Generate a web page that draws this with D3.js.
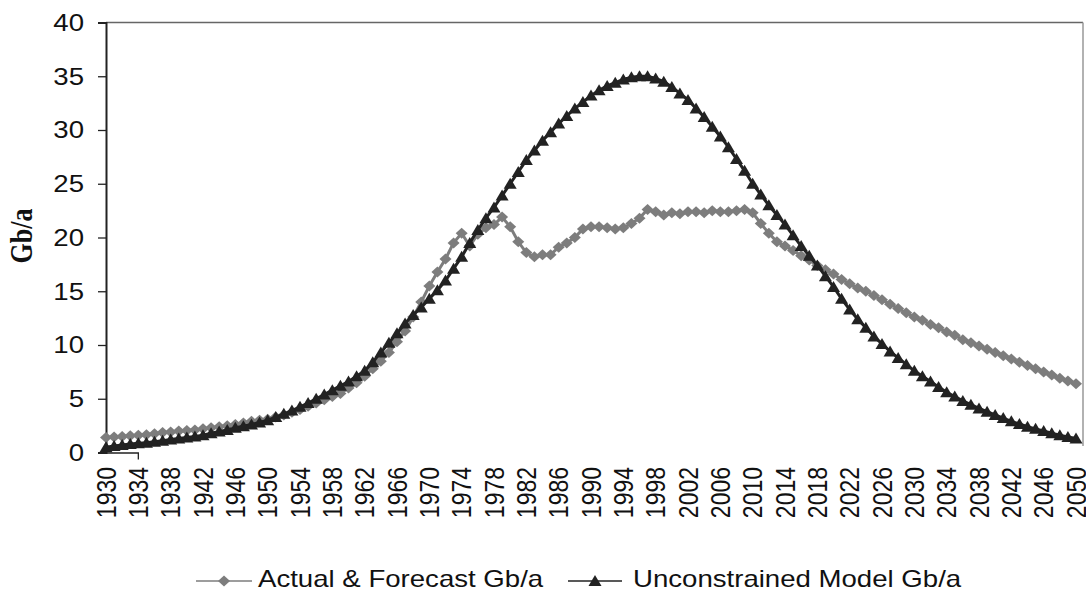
<!DOCTYPE html>
<html lang="en">
<head>
  <meta charset="utf-8" />
  <script src="https://d3js.org/d3.v7.min.js"></script>
  <style>
    body { margin: 0; background: #fff; }
    text { font-family: "Liberation Sans", Arial, sans-serif; fill: #111; }
  </style>
</head>
<body>
  <script>
    // one value per year, 1930 .. 2050
    var years = d3.range(1930, 2051);

    var actual = [
      1.4, 1.45, 1.5, 1.55, 1.6, 1.65, 1.75, 1.85, 1.9, 2.0,
      2.05, 2.1, 2.2, 2.3, 2.4, 2.5, 2.6, 2.75, 2.9, 3.0,
      3.1, 3.3, 3.5, 3.75, 4.0, 4.3, 4.6, 4.9, 5.2, 5.5,
      6.0, 6.5, 7.1, 7.8, 8.5, 9.3, 10.3, 11.3, 12.6, 14.0,
      15.5, 16.8, 18.0, 19.5, 20.4, 19.2, 20.3, 20.9, 21.2, 21.9,
      21.0, 19.6, 18.6, 18.2, 18.4, 18.4, 19.1, 19.5, 20.0, 20.8,
      21.0, 21.0, 20.9, 20.8, 20.9, 21.3, 21.8, 22.6, 22.4, 22.1,
      22.3, 22.2, 22.4, 22.4, 22.3, 22.5, 22.4, 22.4, 22.5, 22.6,
      22.3, 21.3, 20.4, 19.6, 19.2, 18.8, 18.3, 17.9, 17.4, 17.0,
      16.6, 16.1, 15.7, 15.3, 15.0, 14.6, 14.2, 13.8, 13.4, 13.0,
      12.6, 12.3, 11.9, 11.6, 11.2, 10.9, 10.5, 10.2, 9.9, 9.6,
      9.3, 9.0, 8.7, 8.4, 8.1, 7.8, 7.5, 7.2, 6.9, 6.65,
      6.4
    ];

    var model = [
      0.5, 0.6, 0.7, 0.8, 0.85, 0.9, 1.0, 1.1, 1.2, 1.3,
      1.4, 1.5, 1.6, 1.8, 1.95, 2.1, 2.3, 2.45, 2.6, 2.8,
      3.0, 3.3, 3.6, 3.9, 4.25, 4.6, 5.0, 5.4, 5.8, 6.2,
      6.6, 7.1, 7.6, 8.4, 9.3, 10.2, 11.1, 12.0, 12.8, 13.5,
      14.3, 15.1, 16.0, 17.1, 18.2, 19.5, 20.7, 21.8, 22.8, 23.9,
      25.0, 26.1, 27.2, 28.1, 29.0, 29.8, 30.6, 31.3, 32.0, 32.6,
      33.2, 33.7, 34.1, 34.4, 34.7, 34.9, 35.0, 35.0, 34.8, 34.5,
      34.0, 33.4, 32.8, 32.0, 31.2, 30.3, 29.4, 28.4, 27.3, 26.2,
      25.0, 24.0, 23.0, 22.1, 21.2, 20.2, 19.2, 18.3, 17.4, 16.4,
      15.4, 14.3, 13.3, 12.4, 11.6, 10.8, 10.1, 9.4, 8.8, 8.2,
      7.6, 7.1, 6.6, 6.1, 5.6, 5.2, 4.8, 4.45, 4.1, 3.8,
      3.5, 3.2, 2.9, 2.65, 2.4, 2.2, 2.0, 1.8, 1.6, 1.45,
      1.3
    ];

    var yTicks = [0, 5, 10, 15, 20, 25, 30, 35, 40];
    var xTickLabels = [1930, 1934, 1938, 1942, 1946, 1950, 1954, 1958, 1962, 1966,
      1970, 1974, 1978, 1982, 1986, 1990, 1994, 1998, 2002, 2006, 2010,
      2014, 2018, 2022, 2026, 2030, 2034, 2038, 2042, 2046, 2050];
    var seriesNames = ["Actual & Forecast Gb/a", "Unconstrained Model Gb/a"];

    var width = 1086, height = 593;
    var plotL = 106, plotR = 1083, plotT = 22.5, plotB = 452.5;
    var stretch = 1.2; // the scanned chart is wider than it is tall
    var grey = "#7d7d7d", dark = "#222";

    var svg = d3.select("body").append("svg")
      .attr("width", width)
      .attr("height", height);

    var x = d3.scalePoint().domain(years).range([plotL, plotR - 7]);
    var y = d3.scaleLinear().domain([0, 40]).range([plotB, plotT]);

    // frame
    svg.append("line")
      .attr("x1", plotL).attr("x2", plotR).attr("y1", plotT).attr("y2", plotT)
      .style("stroke", "#666").style("stroke-width", 1.5);
    svg.append("line")
      .attr("x1", plotR).attr("x2", plotR).attr("y1", plotT).attr("y2", y(0.6))
      .style("stroke", "#999").style("stroke-width", 1.5);

    // y axis
    var yAxis = svg.append("g")
      .attr("transform", "translate(" + plotL + ",0)")
      .call(d3.axisLeft(y).tickValues(yTicks).tickSize(8).tickFormat(""));
    yAxis.select(".domain").style("stroke", dark).style("stroke-width", 2);
    yAxis.selectAll(".tick line").style("stroke", dark).style("stroke-width", 1.3);

    svg.selectAll(".ylab")
      .data(yTicks)
      .enter().append("text")
      .attr("class", "ylab")
      .attr("transform", function (d) { return "translate(84," + y(d) + ") scale(" + stretch + ",1)"; })
      .attr("dy", "0.36em")
      .attr("text-anchor", "end")
      .style("font-size", "23px")
      .text(function (d) { return d; });

    svg.append("text")
      .attr("transform", "translate(21,236) scale(" + stretch + ",1) rotate(-90)")
      .attr("dy", "0.35em")
      .attr("text-anchor", "middle")
      .style("font-family", "'Liberation Serif', 'Times New Roman', serif")
      .style("font-weight", "bold")
      .style("font-size", "26px")
      .text("Gb/a");

    // x labels, rotated
    svg.selectAll(".xlab")
      .data(xTickLabels)
      .enter().append("text")
      .attr("class", "xlab")
      .attr("transform", function (d) { return "translate(" + x(d) + ",467) scale(" + stretch + ",1) rotate(-90)"; })
      .attr("dy", "0.35em")
      .attr("text-anchor", "end")
      .style("font-size", "23px")
      .text(function (d) { return d; });

    // small bit of x axis left visible at the origin
    svg.append("path")
      .attr("d", "M" + plotL + "," + (plotB + 0.5) + "H" + x(1934) + "V" + (plotB + 7))
      .style("fill", "none").style("stroke", dark).style("stroke-width", 1.3);

    var line = d3.line()
      .x(function (d, i) { return x(years[i]); })
      .y(function (d) { return y(d); });

    var diamond = "M0,-5.5L6,0L0,5.5L-6,0Z";
    var triangle = "M0,-6L6.5,5L-6.5,5Z";

    function drawSeries(values, colour, shape) {
      var g = svg.append("g");
      g.append("path")
        .datum(values)
        .attr("d", line)
        .style("fill", "none")
        .style("stroke", colour)
        .style("stroke-width", 3);
      g.selectAll("path.m")
        .data(values)
        .enter().append("path")
        .attr("class", "m")
        .attr("d", shape)
        .attr("transform", function (d, i) { return "translate(" + x(years[i]) + "," + y(d) + ")"; })
        .style("fill", colour);
    }

    drawSeries(actual, grey, diamond);
    drawSeries(model, dark, triangle);

    // legend
    var legend = [
      { name: seriesNames[0], colour: grey, shape: diamond, x0: 196, x1: 252, tx: 258 },
      { name: seriesNames[1], colour: dark, shape: triangle, x0: 568, x1: 622, tx: 633 }
    ];
    var lg = svg.selectAll(".legend")
      .data(legend)
      .enter().append("g")
      .attr("class", "legend");
    lg.append("line")
      .attr("x1", function (d) { return d.x0; })
      .attr("x2", function (d) { return d.x1; })
      .attr("y1", 581).attr("y2", 581)
      .style("stroke", function (d) { return d.colour; })
      .style("stroke-width", 1.5);
    lg.append("path")
      .attr("d", function (d) { return d.shape; })
      .attr("transform", function (d) { return "translate(" + (d.x0 + d.x1) / 2 + ",581)"; })
      .style("fill", function (d) { return d.colour; });
    lg.append("text")
      .attr("transform", function (d) { return "translate(" + d.tx + ",587) scale(" + stretch + ",1)"; })
      .style("font-size", "23px")
      .text(function (d) { return d.name; });
  </script>
</body>
</html>
